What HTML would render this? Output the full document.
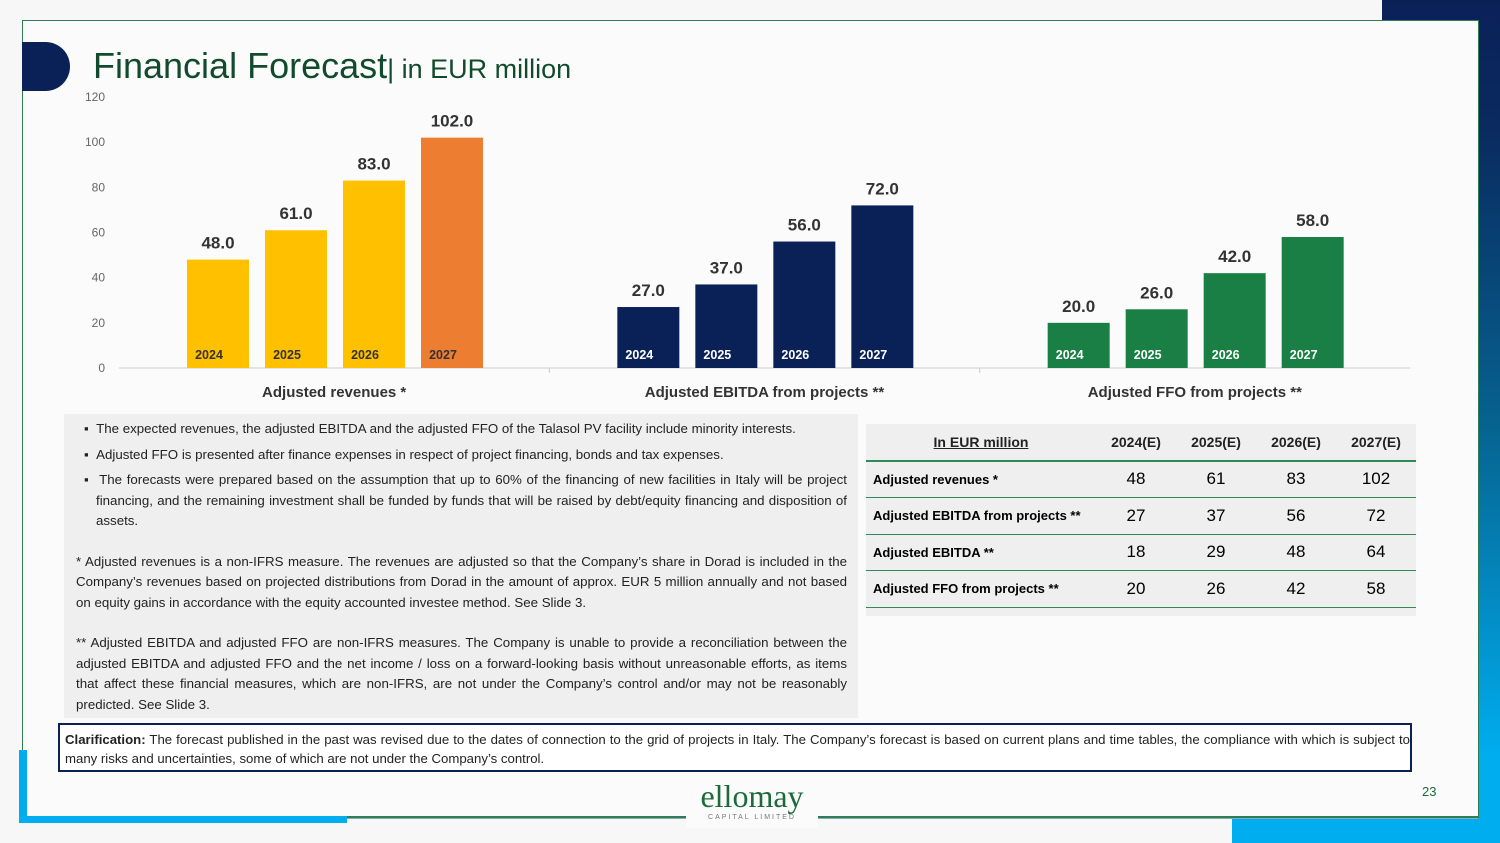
<!DOCTYPE html>
<html><head><meta charset="utf-8"><style>
body{margin:0;width:1500px;height:843px;overflow:hidden;background:#f7f7f8;font-family:"Liberation Sans",sans-serif;position:relative}
.abs{position:absolute}
.notes{left:64px;top:414px;width:794px;height:304px;background:#efefef;font-size:13.3px;color:#222;line-height:20.5px}
.notes p{margin:0;text-align:justify}
table{border-collapse:collapse;font-size:13px}
</style></head><body>
<div class="abs" style="left:1382px;top:0;width:118px;height:843px;background:linear-gradient(180deg,#0a2158 0%,#0a2a60 15%,#06628f 50%,#00aeef 90%,#00aeef 100%)"></div>
<div class="abs" style="left:1232px;top:818px;width:268px;height:25px;background:#00aeef"></div>
<div class="abs" style="left:22px;top:20px;width:1455px;height:797px;border:1.5px solid #2e7d55;border-bottom-color:#8ab;background:#fbfbfc"></div>
<div class="abs" style="left:19px;top:750px;width:8px;height:72px;background:#00aeef"></div>
<div class="abs" style="left:19px;top:816px;width:328px;height:7px;background:#00aeef"></div>
<div class="abs" style="left:22px;top:42px;width:48px;height:49px;background:#0a2158;border-radius:0 25px 25px 0"></div>
<div class="abs" style="left:93px;top:45px;color:#114a2c;font-size:36px;white-space:nowrap">Financial Forecast<span style="font-size:27px">| in EUR million</span></div>
<svg class="abs" style="left:0;top:0" width="1500" height="410" id="chart"></svg>
<div class="abs notes">
<div style="padding:5px 11px 0 12px">
<p style="padding-left:20px;text-indent:-12px">▪&nbsp;&nbsp;The expected revenues, the adjusted EBITDA and the adjusted FFO of the Talasol PV facility include minority interests.</p>
<p style="padding-left:20px;text-indent:-12px;margin-top:5px">▪&nbsp;&nbsp;Adjusted FFO is presented after finance expenses in respect of project financing, bonds and tax expenses.</p>
<p style="padding-left:20px;text-indent:-12px;margin-top:5px">▪&nbsp;&nbsp;The forecasts were prepared based on the assumption that up to 60% of the financing of new facilities in Italy will be project financing, and the remaining investment shall be funded by funds that will be raised by debt/equity financing and disposition of assets.</p>
<p style="margin-top:20px">* Adjusted revenues is a non-IFRS measure. The revenues are adjusted so that the Company’s share in Dorad is included in the Company’s revenues based on projected distributions from Dorad in the amount of approx. EUR 5 million annually and not based on equity gains in accordance with the equity accounted investee method. See Slide 3.</p>
<p style="margin-top:20px">** Adjusted EBITDA and adjusted FFO are non-IFRS measures. The Company is unable to provide a reconciliation between the adjusted EBITDA and adjusted FFO and the net income / loss on a forward-looking basis without unreasonable efforts, as items that affect these financial measures, which are non-IFRS, are not under the Company’s control and/or may not be reasonably predicted. See Slide 3.</p>
</div></div>
<div class="abs" style="left:866px;top:424px;width:550px;height:192px;background:#efefef">
<table style="width:550px">
<tr style="height:37px;font-weight:bold;color:#222;font-size:14px;border-bottom:2px solid #2e8b57"><td style="text-align:center;width:228px;text-decoration:underline">In EUR million</td><td style="text-align:center">2024(E)</td><td style="text-align:center">2025(E)</td><td style="text-align:center">2026(E)</td><td style="text-align:center">2027(E)</td></tr>
<tr style="height:36px;border-bottom:1.5px solid #2e8b57"><td style="font-weight:bold;padding-left:7px">Adjusted revenues *</td><td style="text-align:center;font-size:17px">48</td><td style="text-align:center;font-size:17px">61</td><td style="text-align:center;font-size:17px">83</td><td style="text-align:center;font-size:17px">102</td></tr>
<tr style="height:37px;border-bottom:1.5px solid #2e8b57"><td style="font-weight:bold;padding-left:7px">Adjusted EBITDA from projects **</td><td style="text-align:center;font-size:17px">27</td><td style="text-align:center;font-size:17px">37</td><td style="text-align:center;font-size:17px">56</td><td style="text-align:center;font-size:17px">72</td></tr>
<tr style="height:36px;border-bottom:1.5px solid #2e8b57"><td style="font-weight:bold;padding-left:7px">Adjusted EBITDA **</td><td style="text-align:center;font-size:17px">18</td><td style="text-align:center;font-size:17px">29</td><td style="text-align:center;font-size:17px">48</td><td style="text-align:center;font-size:17px">64</td></tr>
<tr style="height:37px;border-bottom:1.5px solid #2e8b57"><td style="font-weight:bold;padding-left:7px">Adjusted FFO from projects **</td><td style="text-align:center;font-size:17px">20</td><td style="text-align:center;font-size:17px">26</td><td style="text-align:center;font-size:17px">42</td><td style="text-align:center;font-size:17px">58</td></tr>
</table></div>
<div class="abs" style="left:58px;top:723px;width:1354px;height:49px;border:2px solid #0a2158;background:#fff;font-size:13.2px;line-height:19px;color:#222;padding:5px 0 0 5px;box-sizing:border-box;text-align:justify"><b>Clarification:</b> The forecast published in the past was revised due to the dates of connection to the grid of projects in Italy. The Company’s forecast is based on current plans and time tables, the compliance with which is subject to many risks and uncertainties, some of which are not under the Company’s control.</div>
<div class="abs" style="left:347px;top:816px;width:1131px;height:1.5px;background:#2e7d55"></div>
<div class="abs" style="left:686px;top:778px;width:132px;height:50px;background:#fbfbfc;text-align:center">
<div style="font-family:'Liberation Serif',serif;color:#1b6b3a;font-size:32px;line-height:36px">ellomay</div>
<div style="font-size:7px;letter-spacing:2px;color:#777">CAPITAL LIMITED</div></div>
<div class="abs" style="left:1422px;top:784px;font-size:13px;color:#1b6b3a">23</div>
<script>
const categories=["Adjusted revenues *","Adjusted EBITDA from projects **","Adjusted FFO from projects **"];
const years=["2024","2025","2026","2027"];
const revenues=[48,61,83,102];
const ebitda=[27,37,56,72];
const ffo=[20,26,42,58];
const yTicks=[0,20,40,60,80,100,120];
const series=[revenues,ebitda,ffo];
const colors=[["#ffc000","#ffc000","#ffc000","#ed7d31"],["#0a2158","#0a2158","#0a2158","#0a2158"],["#1a7f45","#1a7f45","#1a7f45","#1a7f45"]];
const svg=document.getElementById('chart');
const NS='http://www.w3.org/2000/svg';
const y0=368,yTop=97,max=120;
const y=v=>y0-(v/max)*(y0-yTop);
const x0=119,x1=1410,gw=(x1-x0)/3;
const bx=(g,i)=>x0+gw*g+68+i*78;
function mk(tag,attrs,txt){const e=document.createElementNS(NS,tag);for(const k in attrs)e.setAttribute(k,attrs[k]);if(txt!==undefined)e.textContent=txt;svg.appendChild(e);return e;}
yTicks.forEach(t=>{const e=mk('text',{x:105,y:y(t)+4,'text-anchor':'end','font-size':12,fill:'#666'},t);

});
const ax=mk('line',{x1:x0,x2:x1,y1:y0,y2:y0,stroke:'#ccc'});


[1,2].forEach(k=>{mk('line',{x1:x0+gw*k,x2:x0+gw*k,y1:y0,y2:y0+5,stroke:'#ccc'});});
series.forEach((s,g)=>{
 s.forEach((v,i)=>{
  const r=mk('rect',{x:bx(g,i),y:y(v),width:62,height:y0-y(v),fill:colors[g][i]});
  
  
  const l=mk('text',{x:bx(g,i)+31,y:y(v)-11,'text-anchor':'middle','font-size':17,'font-weight':'bold',fill:'#333'},v.toFixed(1));
  
  
  const yl=mk('text',{x:bx(g,i)+22,y:y0-9,'text-anchor':'middle','font-size':12.5,'font-weight':'bold',fill:g==0?'#333':'#fff'},years[i]);
  
  
 });
 const c=mk('text',{x:x0+gw*g+gw/2,y:397,'text-anchor':'middle','font-size':15,'font-weight':'bold',fill:'#333'},categories[g]);
 
 
});
</script>
</body></html>
